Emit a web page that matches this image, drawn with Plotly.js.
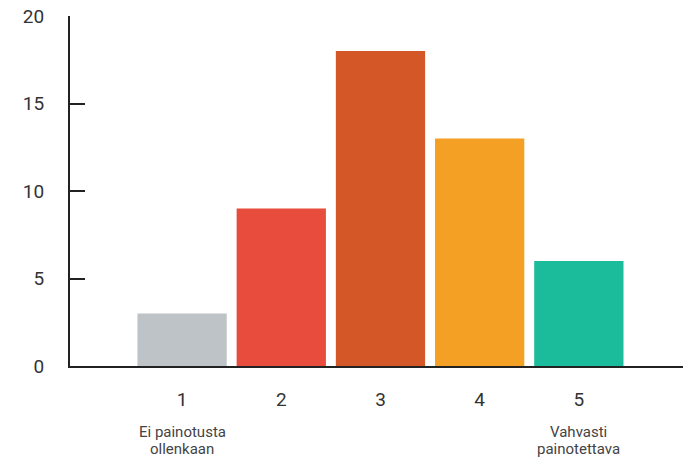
<!DOCTYPE html>
<html>
<head>
<meta charset="utf-8">
<script src="https://cdn.plot.ly/plotly-3.0.1.min.js"></script>
<style>html,body{margin:0;padding:0;background:#fff;}#chart{width:683px;height:460px;}</style>
</head>
<body>
<div id="chart"></div>
<script>
const categories = [1, 2, 3, 4, 5];
const values = [3, 9, 18, 13, 6];
const colors = ['#bdc3c7', '#e74c3c', '#d35727', '#f4a024', '#1abc9c'];
const yTicks = [0, 5, 10, 15, 20];
const endLabelX = [1, 1, 5, 5];
const endLabelText = ['Ei painotusta', 'ollenkaan', 'Vahvasti', 'painotettava'];
const endLabelLine = [0, 1, 0, 1];

const trace = {
  type: 'bar',
  x: categories,
  y: values,
  width: 0.9,
  marker: {color: colors, line: {width: 0}},
  hoverinfo: 'none'
};

const layout = {
  width: 683, height: 460,
  margin: {l: 70, r: 0, t: 16, b: 94},
  paper_bgcolor: '#fff', plot_bgcolor: '#fff',
  font: {family: 'Roboto, sans-serif', size: 19, color: '#333'},
  showlegend: false,
  xaxis: {
    range: [-0.13, 6.05],
    tickvals: categories,
    ticktext: categories.map(String),
    ticks: '',
    showgrid: false, zeroline: false,
    showline: true, linewidth: 2, linecolor: '#222',
    ticklabelstandoff: 15,
    tickfont: {size: 19, color: '#333'}
  },
  yaxis: {
    range: [0, 20],
    tickvals: yTicks,
    ticks: 'inside', ticklen: 15, tickwidth: 2, tickcolor: '#222',
    showgrid: false, zeroline: false,
    showline: true, linewidth: 2, linecolor: '#222',
    ticklabelstandoff: 20,
    tickfont: {size: 19, color: '#333'}
  },
  annotations: endLabelText.map((t, i) => ({
    x: endLabelX[i], xref: 'x',
    y: endLabelLine[i] === 0 ? -0.189 : -0.237, yref: 'paper',
    text: t, showarrow: false,
    font: {size: 15, color: '#444'}, align: 'center',
    xanchor: 'center', yanchor: 'middle'
  }))
};

Plotly.newPlot('chart', [trace], layout, {displayModeBar: false, staticPlot: true});
</script>
</body>
</html>
